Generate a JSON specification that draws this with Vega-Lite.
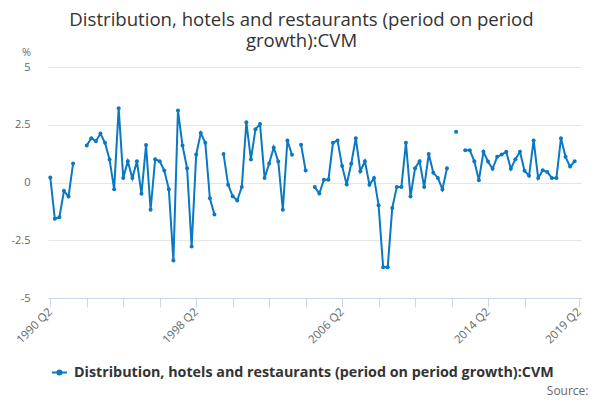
{
  "$schema": "https://vega.github.io/schema/vega-lite/v6.json",
  "width": 539,
  "height": 231,
  "autosize": {"type": "none"},
  "padding": {"left": 47, "top": 67, "right": 14, "bottom": 102},
  "title": {
    "text": ["Distribution, hotels and restaurants (period on period", "growth):CVM"],
    "font": "Open Sans",
    "fontSize": 18.6,
    "fontWeight": "normal",
    "color": "#333333",
    "anchor": "middle",
    "frame": "group",
    "dx": -15,
    "dy": 9,
    "lineHeight": 21
  },
  "data": {
    "values": [
      {"q": "1990 Q2", "v": 0.22}, {"q": "1990 Q3", "v": -1.57}, {"q": "1990 Q4", "v": -1.5},
      {"q": "1991 Q1", "v": -0.36}, {"q": "1991 Q2", "v": -0.61}, {"q": "1991 Q3", "v": 0.82}, {"q": "1991 Q4", "v": null},
      {"q": "1992 Q1", "v": null}, {"q": "1992 Q2", "v": 1.6}, {"q": "1992 Q3", "v": 1.92}, {"q": "1992 Q4", "v": 1.79},
      {"q": "1993 Q1", "v": 2.12}, {"q": "1993 Q2", "v": 1.72}, {"q": "1993 Q3", "v": 1.0}, {"q": "1993 Q4", "v": -0.29},
      {"q": "1994 Q1", "v": 3.21}, {"q": "1994 Q2", "v": 0.2}, {"q": "1994 Q3", "v": 0.92}, {"q": "1994 Q4", "v": 0.19},
      {"q": "1995 Q1", "v": 0.92}, {"q": "1995 Q2", "v": -0.49}, {"q": "1995 Q3", "v": 1.62}, {"q": "1995 Q4", "v": -1.18},
      {"q": "1996 Q1", "v": 1.01}, {"q": "1996 Q2", "v": 0.92}, {"q": "1996 Q3", "v": 0.52}, {"q": "1996 Q4", "v": -0.29},
      {"q": "1997 Q1", "v": -3.38}, {"q": "1997 Q2", "v": 3.12}, {"q": "1997 Q3", "v": 1.6}, {"q": "1997 Q4", "v": 0.62},
      {"q": "1998 Q1", "v": -2.77}, {"q": "1998 Q2", "v": 1.21}, {"q": "1998 Q3", "v": 2.14}, {"q": "1998 Q4", "v": 1.72},
      {"q": "1999 Q1", "v": -0.68}, {"q": "1999 Q2", "v": -1.39}, {"q": "1999 Q3", "v": null}, {"q": "1999 Q4", "v": 1.23},
      {"q": "2000 Q1", "v": -0.1}, {"q": "2000 Q2", "v": -0.59}, {"q": "2000 Q3", "v": -0.78}, {"q": "2000 Q4", "v": -0.19},
      {"q": "2001 Q1", "v": 2.61}, {"q": "2001 Q2", "v": 1.0}, {"q": "2001 Q3", "v": 2.31}, {"q": "2001 Q4", "v": 2.53},
      {"q": "2002 Q1", "v": 0.2}, {"q": "2002 Q2", "v": 0.82}, {"q": "2002 Q3", "v": 1.52}, {"q": "2002 Q4", "v": 0.91},
      {"q": "2003 Q1", "v": -1.18}, {"q": "2003 Q2", "v": 1.82}, {"q": "2003 Q3", "v": 1.2}, {"q": "2003 Q4", "v": null},
      {"q": "2004 Q1", "v": 1.63}, {"q": "2004 Q2", "v": 0.52}, {"q": "2004 Q3", "v": null}, {"q": "2004 Q4", "v": -0.19},
      {"q": "2005 Q1", "v": -0.48}, {"q": "2005 Q2", "v": 0.12}, {"q": "2005 Q3", "v": 0.12}, {"q": "2005 Q4", "v": 1.72},
      {"q": "2006 Q1", "v": 1.82}, {"q": "2006 Q2", "v": 0.71}, {"q": "2006 Q3", "v": -0.09}, {"q": "2006 Q4", "v": 0.81},
      {"q": "2007 Q1", "v": 1.92}, {"q": "2007 Q2", "v": 0.49}, {"q": "2007 Q3", "v": 0.92}, {"q": "2007 Q4", "v": -0.1},
      {"q": "2008 Q1", "v": 0.2}, {"q": "2008 Q2", "v": -0.98}, {"q": "2008 Q3", "v": -3.67}, {"q": "2008 Q4", "v": -3.67},
      {"q": "2009 Q1", "v": -1.1}, {"q": "2009 Q2", "v": -0.19}, {"q": "2009 Q3", "v": -0.19}, {"q": "2009 Q4", "v": 1.72},
      {"q": "2010 Q1", "v": -0.61}, {"q": "2010 Q2", "v": 0.62}, {"q": "2010 Q3", "v": 0.92}, {"q": "2010 Q4", "v": -0.2},
      {"q": "2011 Q1", "v": 1.23}, {"q": "2011 Q2", "v": 0.42}, {"q": "2011 Q3", "v": 0.2}, {"q": "2011 Q4", "v": -0.3},
      {"q": "2012 Q1", "v": 0.62}, {"q": "2012 Q2", "v": null}, {"q": "2012 Q3", "v": 2.2}, {"q": "2012 Q4", "v": null},
      {"q": "2013 Q1", "v": 1.4}, {"q": "2013 Q2", "v": 1.4}, {"q": "2013 Q3", "v": 0.92}, {"q": "2013 Q4", "v": 0.1},
      {"q": "2014 Q1", "v": 1.33}, {"q": "2014 Q2", "v": 0.91}, {"q": "2014 Q3", "v": 0.59}, {"q": "2014 Q4", "v": 1.11},
      {"q": "2015 Q1", "v": 1.21}, {"q": "2015 Q2", "v": 1.33}, {"q": "2015 Q3", "v": 0.59}, {"q": "2015 Q4", "v": 1.01},
      {"q": "2016 Q1", "v": 1.33}, {"q": "2016 Q2", "v": 0.51}, {"q": "2016 Q3", "v": 0.29}, {"q": "2016 Q4", "v": 1.82},
      {"q": "2017 Q1", "v": 0.19}, {"q": "2017 Q2", "v": 0.53}, {"q": "2017 Q3", "v": 0.45}, {"q": "2017 Q4", "v": 0.2},
      {"q": "2018 Q1", "v": 0.2}, {"q": "2018 Q2", "v": 1.92}, {"q": "2018 Q3", "v": 1.11}, {"q": "2018 Q4", "v": 0.69},
      {"q": "2019 Q1", "v": 0.92}, {"q": "2019 Q2", "v": null}
    ]
  },
  "encoding": {
    "x": {
      "field": "q",
      "type": "ordinal",
      "sort": null,
      "scale": {"type": "point", "range": [1, 534.5]},
      "axis": {
        "values": ["1990 Q2", "1992 Q2", "1994 Q2", "1996 Q2", "1998 Q2", "2000 Q2", "2002 Q2", "2004 Q2", "2006 Q2", "2008 Q2", "2010 Q2", "2012 Q2", "2014 Q2", "2016 Q2", "2019 Q2"],
        "labelExpr": "datum.value == '1990 Q2' || datum.value == '1998 Q2' || datum.value == '2006 Q2' || datum.value == '2014 Q2' || datum.value == '2019 Q2' ? datum.value : ''",
        "labelAngle": -45,
        "labelAlign": "right",
        "labelBaseline": "middle",
        "labelPadding": 3,
        "labelOverlap": false,
        "labelFont": "Open Sans",
        "labelFontSize": 11.5,
        "labelColor": "#666666",
        "tickSize": 9,
        "tickColor": "#ccd6eb",
        "domainColor": "#ccd6eb",
        "grid": false,
        "title": "Source:",
        "titleX": 541,
        "titleY": 92,
        "titleAlign": "right",
        "titleBaseline": "middle",
        "titleFont": "Open Sans",
        "titleFontSize": 12,
        "titleFontWeight": "normal",
        "titleColor": "#666666"
      }
    },
    "y": {
      "field": "v",
      "type": "quantitative",
      "scale": {"domain": [-5, 5]},
      "axis": {
        "values": [-5, -2.5, 0, 2.5, 5],
        "labelExpr": "datum.value",
        "grid": true,
        "gridColor": "#e6e6e6",
        "domain": false,
        "ticks": false,
        "labelPadding": 17,
        "labelFont": "Open Sans",
        "labelFontSize": 11,
        "labelColor": "#666666",
        "title": "%",
        "titleAngle": 0,
        "titleX": -21,
        "titleY": -15,
        "titleAlign": "center",
        "titleBaseline": "middle",
        "titleFont": "Open Sans",
        "titleFontSize": 11,
        "titleFontWeight": "normal",
        "titleColor": "#666666"
      }
    },
    "color": {
      "datum": "Distribution, hotels and restaurants (period on period growth):CVM",
      "scale": {"range": ["#0a78c2"]},
      "legend": {
        "title": null,
        "orient": "none",
        "legendX": 4,
        "legendY": 297,
        "symbolType": "M-1,0L1,0M-0.27,0A0.27,0.27,0,1,0,0.27,0A0.27,0.27,0,1,0,-0.27,0",
        "symbolSize": 225,
        "symbolStrokeWidth": 2,
        "labelOffset": 6,
        "labelLimit": 600,
        "labelFont": "Open Sans",
        "labelFontSize": 14.3,
        "labelFontWeight": "bold",
        "labelColor": "#333333"
      }
    }
  },
  "layer": [
    {"mark": {"type": "line", "strokeWidth": 2, "invalid": "break-paths-show-domains"}},
    {"mark": {"type": "point", "filled": true, "size": 16, "opacity": 1, "invalid": "break-paths-show-domains"}}
  ],
  "config": {
    "view": {"stroke": null}
  }
}
